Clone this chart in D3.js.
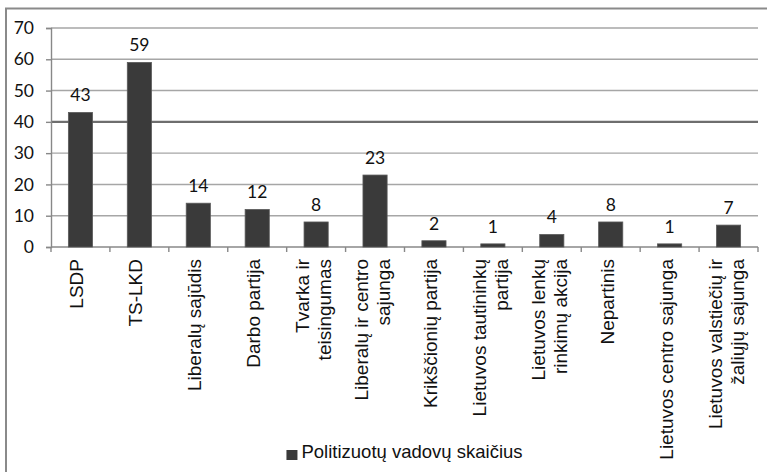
<!DOCTYPE html>
<html>
<head>
<meta charset="utf-8">
<script src="https://cdn.jsdelivr.net/npm/d3@7"></script>
<style>
  body { margin: 0; background: #fff; }
  svg { display: block; }
  .num { font-family: Lato, "Open Sans", sans-serif; font-size: 17.5px; fill: #111; }
  .cat { font-family: "Liberation Sans", Arial, sans-serif; font-size: 19px; fill: #111; }
  .leg { font-family: "Liberation Sans", Arial, sans-serif; font-size: 18.5px; fill: #111; }
</style>
</head>
<body>
<svg width="767" height="472"></svg>
<script>
// chart data
var categories = ["LSDP", "TS-LKD", "Liberalų sajūdis", "Darbo partija", "Tvarka ir\nteisingumas",
                  "Liberalų ir centro\nsajunga", "Krikščionių partija", "Lietuvos tautininkų\npartija",
                  "Lietuvos lenkų\nrinkimų akcija", "Nepartinis", "Lietuvos centro sajunga",
                  "Lietuvos valstiečių ir\nžaliųjų sajunga"];
var values = [43, 59, 14, 12, 8, 23, 2, 1, 4, 8, 1, 7];
var yTicks = [0, 10, 20, 30, 40, 50, 60, 70];
var seriesName = "Politizuotų vadovų skaičius";

var svg = d3.select("svg"),
    plotLeft = 51, plotRight = 758, plotTop = 28, plotBottom = 247;

// outer frame
svg.append("rect")
    .attr("x", 6).attr("y", 8.5)
    .attr("width", 800).attr("height", 500)
    .attr("fill", "none")
    .attr("stroke", "#8a8a8a")
    .attr("stroke-width", 2);

var x = d3.scaleBand()
    .domain(categories)
    .range([plotLeft, plotRight])
    .paddingInner(0.59)
    .paddingOuter(0.295);

var y = d3.scaleLinear()
    .domain([0, 70])
    .range([plotBottom, plotTop]);

var step = x.step();

// gridlines
svg.append("g")
  .selectAll("line")
  .data(yTicks.filter(function(d) { return d > 0; }))
  .enter().append("line")
    .attr("x1", plotLeft).attr("x2", plotRight)
    .attr("y1", function(d) { return y(d); })
    .attr("y2", function(d) { return y(d); })
    .attr("stroke", function(d) { return d == 40 ? "#6e6e6e" : "#a6a6a6"; })
    .attr("stroke-width", function(d) { return d == 40 ? 2.2 : 1.4; });

// y axis
var yAxis = svg.append("g")
    .attr("transform", "translate(" + plotLeft + ",0)")
    .call(d3.axisLeft(y).tickValues(yTicks).tickSize(5).tickPadding(12));
yAxis.select(".domain").attr("stroke", "#888").attr("stroke-width", 1.4);
yAxis.selectAll(".tick line").attr("stroke", "#888").attr("stroke-width", 1.4);
yAxis.selectAll("text").attr("class", "num");
yAxis.attr("font-family", null).attr("font-size", null);

// x axis line and boundary ticks
svg.append("line")
    .attr("x1", plotLeft).attr("x2", plotRight)
    .attr("y1", plotBottom).attr("y2", plotBottom)
    .attr("stroke", "#888").attr("stroke-width", 1.4);

svg.append("g")
  .selectAll("line")
  .data(d3.range(categories.length + 1))
  .enter().append("line")
    .attr("x1", function(i) { return plotLeft + i * step; })
    .attr("x2", function(i) { return plotLeft + i * step; })
    .attr("y1", plotBottom).attr("y2", plotBottom + 5)
    .attr("stroke", "#888").attr("stroke-width", 1.4);

// bars
svg.append("g")
  .selectAll("rect")
  .data(values)
  .enter().append("rect")
    .attr("x", function(d, i) { return x(categories[i]); })
    .attr("y", function(d) { return y(d); })
    .attr("width", x.bandwidth())
    .attr("height", function(d) { return plotBottom - y(d); })
    .attr("fill", "#3a3a3a")
    .attr("stroke", "#5a5a5a")
    .attr("stroke-width", 0.8);

// value labels
svg.append("g")
  .selectAll("text")
  .data(values)
  .enter().append("text")
    .attr("class", "num")
    .attr("x", function(d, i) { return x(categories[i]) + x.bandwidth() / 2; })
    .attr("y", function(d) { return y(d) - 11; })
    .attr("text-anchor", "middle")
    .text(function(d) { return d; });

// category labels, rotated
var catG = svg.append("g")
  .selectAll("text")
  .data(categories)
  .enter().append("text")
    .attr("class", "cat")
    .attr("text-anchor", "end")
    .attr("transform", function(d) {
      var cx = x(d) + x.bandwidth() / 2;
      return "translate(" + cx + "," + (plotBottom + 12) + ") rotate(-90)";
    });

catG.each(function(d) {
  var lines = d.split("\n");
  var t = d3.select(this);
  lines.forEach(function(l, i) {
    var off = lines.length == 1 ? 3 : (i == 0 ? -7 : 15);
    t.append("tspan").attr("x", 0).attr("y", off).text(l);
  });
});

// legend
var legend = svg.append("g");
var lt = legend.append("text")
    .attr("class", "leg")
    .attr("x", 0).attr("y", 458)
    .text(seriesName);
var tw = lt.node().getComputedTextLength();
var lx = (plotLeft + plotRight) / 2 - (tw + 15) / 2;
legend.append("rect")
    .attr("x", lx).attr("y", 450)
    .attr("width", 11).attr("height", 10)
    .attr("fill", "#3a3a3a");
lt.attr("x", lx + 15);
</script>
</body>
</html>
